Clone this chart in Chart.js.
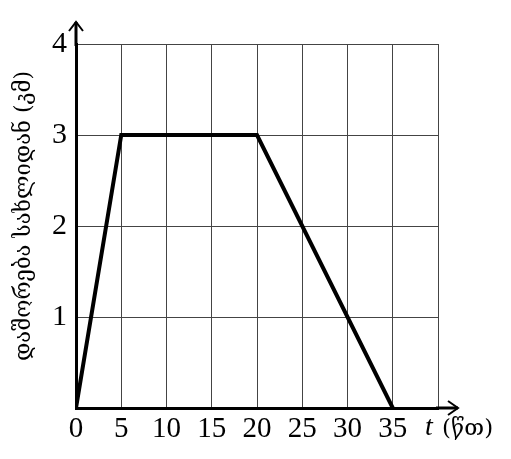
<!DOCTYPE html>
<html>
<head>
<meta charset="utf-8">
<script src="https://cdn.jsdelivr.net/npm/chart.js@4"></script>
<style>
  html, body { margin: 0; padding: 0; background: #fff; }
</style>
</head>
<body>
<canvas id="chart" width="511" height="459"></canvas>
<script>
// data
const timeMin = [0, 5, 20, 35];
const distKm = [0, 3, 3, 0];
const xTickLabels = ["0", "5", "10", "15", "20", "25", "30", "35", ""];
const yTickLabels = ["", "1", "2", "3", "4"];
const yTitle = "დაშორება სახლიდან (კმ)";
const xTitleVar = "t";
const xTitleUnit = "(წთ)";

const serif = "'Liberation Serif', 'Times New Roman', serif";
const geo = "'DejaVu Serif', 'DejaVu Sans', sans-serif";

// axis arrows, y title and t (min) label
const axisExtras = {
  id: "axisExtras",
  afterDraw(chart) {
    const ctx = chart.ctx;
    const a = chart.chartArea;
    ctx.save();
    ctx.strokeStyle = "#000";
    ctx.lineWidth = 3;
    ctx.lineCap = "butt";
    // y axis extension + head
    ctx.beginPath();
    ctx.moveTo(a.left, a.top + 2);
    ctx.lineTo(a.left, a.top - 22);
    ctx.stroke();
    ctx.lineWidth = 2;
    ctx.beginPath();
    ctx.moveTo(a.left - 7, a.top - 13);
    ctx.lineTo(a.left, a.top - 22);
    ctx.lineTo(a.left + 7, a.top - 13);
    ctx.stroke();
    // x axis extension + head
    ctx.lineWidth = 3;
    ctx.beginPath();
    ctx.moveTo(a.right - 2, a.bottom);
    ctx.lineTo(a.right + 20, a.bottom);
    ctx.stroke();
    ctx.lineWidth = 2;
    ctx.beginPath();
    ctx.moveTo(a.right + 10, a.bottom - 7);
    ctx.lineTo(a.right + 20, a.bottom);
    ctx.lineTo(a.right + 10, a.bottom + 7);
    ctx.stroke();

    ctx.fillStyle = "#000";
    // y title, rotated
    ctx.save();
    ctx.translate(24, 216);
    ctx.rotate(-Math.PI / 2);
    ctx.textAlign = "center";
    ctx.textBaseline = "middle";
    ctx.font = "22px " + geo;
    ctx.fillText(yTitle, 0, 0);
    ctx.restore();

    // x title
    ctx.textBaseline = "alphabetic";
    ctx.textAlign = "left";
    ctx.font = "italic 28px " + serif;
    ctx.fillText(xTitleVar, a.right - 13, a.bottom + 27);
    ctx.font = "23px " + geo;
    ctx.fillText(xTitleUnit, a.right + 4, a.bottom + 27);
    ctx.restore();
  }
};

new Chart(document.getElementById("chart"), {
  type: "line",
  data: {
    datasets: [{
      data: timeMin.map((t, i) => ({ x: t, y: distKm[i] })),
      borderColor: "#000",
      borderWidth: 4,
      pointRadius: 0,
      tension: 0
    }]
  },
  options: {
    responsive: false,
    animation: false,
    devicePixelRatio: 1,
    layout: { padding: { top: 44, right: 73, left: 0, bottom: 0 } },
    plugins: { legend: { display: false }, tooltip: { enabled: false } },
    scales: {
      x: {
        type: "linear",
        min: 0,
        max: 40,
        ticks: {
          stepSize: 5,
          autoSkip: false,
          maxRotation: 0,
          padding: 4,
          color: "#000",
          font: { family: serif, size: 29 },
          callback: (v) => xTickLabels[Math.round(v / 5)]
        },
        grid: { color: "#444", lineWidth: 1, drawTicks: false },
        border: { color: "#000", width: 3 },
        afterFit: (s) => { s.height = 51; }
      },
      y: {
        min: 0,
        max: 4,
        ticks: {
          stepSize: 1,
          padding: 9,
          color: "#000",
          font: { family: serif, size: 30 },
          callback: (v) => yTickLabels[Math.round(v)]
        },
        grid: { color: "#444", lineWidth: 1, drawTicks: false },
        border: { color: "#000", width: 3 },
        afterFit: (s) => { s.width = 76; }
      }
    }
  },
  plugins: [axisExtras]
});
</script>
</body>
</html>
